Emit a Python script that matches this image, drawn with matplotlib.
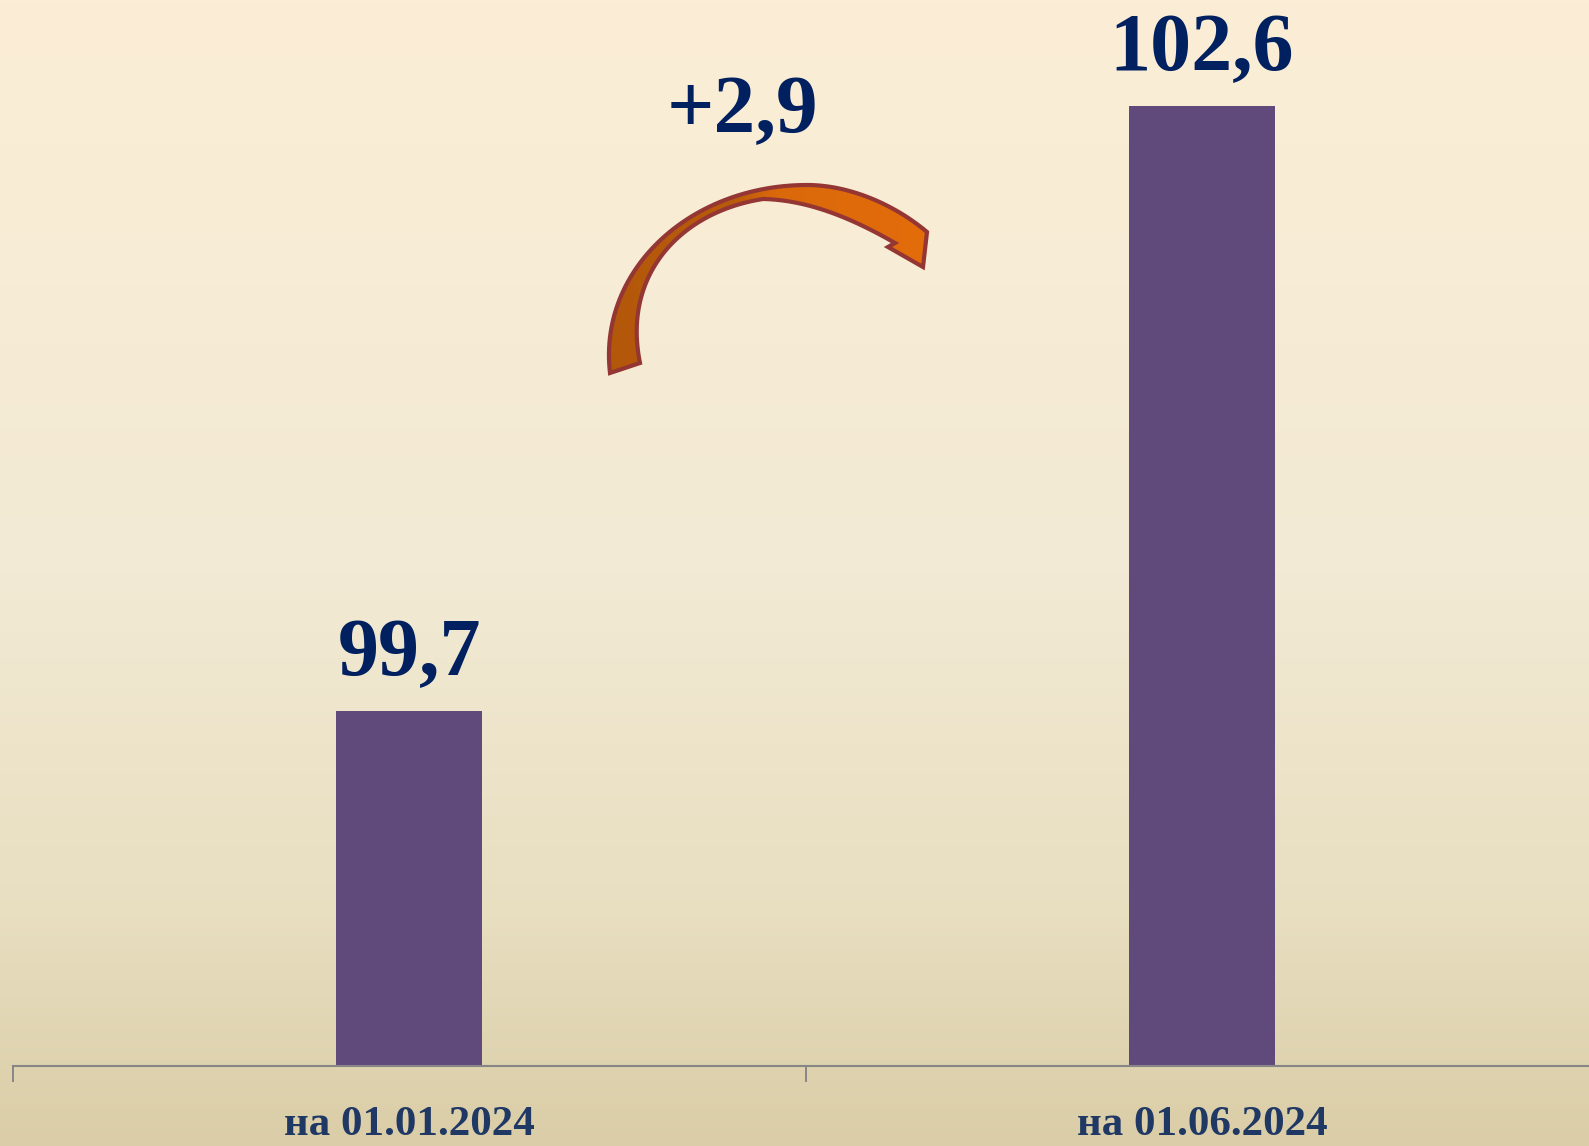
import numpy as np
import matplotlib
matplotlib.use("Agg")
import matplotlib.pyplot as plt
from matplotlib.colors import LinearSegmentedColormap
from matplotlib.patches import Polygon

# ---- data ----
categories = ["на 01.01.2024", "на 01.06.2024"]
values = [99.7, 102.6]
value_labels = ["99,7", "102,6"]
delta_label = "+2,9"
y_min, y_max = 98.0, 103.1

W, H = 1589, 1146
fig = plt.figure(figsize=(W / 100, H / 100), dpi=100)

# background gradient
bg = fig.add_axes([0, 0, 1, 1], zorder=0)
bg_cmap = LinearSegmentedColormap.from_list(
    "bg", [(0, "#FCEED6"), (0.5, "#F2EAD4"), (0.8, "#E8DEC0"), (1.0, "#DACDA7")])
bg.imshow(np.linspace(0, 1, 256).reshape(-1, 1), aspect="auto", cmap=bg_cmap,
          extent=(0, 1, 0, 1), origin="upper")
bg.set_axis_off()

# main axes
ax_left = 12.5 / W
ax_bottom = (H - 1066) / H
ax_height = (y_max - y_min) * 208.6 / H
ax = fig.add_axes([ax_left, ax_bottom, 1586 / W, ax_height], zorder=1)
ax.patch.set_alpha(0)
x = np.arange(len(categories))
ax.bar(x, [v - y_min for v in values], bottom=y_min, width=0.185,
       color="#604A7B", zorder=2)
ax.set_xlim(-0.5, 1.5)
ax.set_ylim(y_min, y_max)
for s in ["top", "right", "left"]:
    ax.spines[s].set_visible(False)
ax.spines["bottom"].set_color("#868686")
ax.spines["bottom"].set_linewidth(1.5)
ax.set_yticks([])
ax.set_xticks([-0.5, 0.5, 1.5])
ax.set_xticklabels([])
ax.tick_params(axis="x", length=11.5, width=1.4, color="#868686")

serif = ["Liberation Serif", "DejaVu Serif"]
for xi, v, lab, cat in zip(x, values, value_labels, categories):
    ax.annotate(lab, xy=(xi, v), xytext=(0, 26), textcoords="offset points",
                ha="center", va="baseline", fontsize=59, fontweight="bold",
                family=serif, color="#002060")
    ax.annotate(cat, xy=(xi, y_min), xytext=(0, -50), textcoords="offset points",
                ha="center", va="baseline", fontsize=31, fontweight="bold",
                family=serif, color="#1F3864", annotation_clip=False)

fig.text(742 / W, 1 - 132 / H, delta_label, ha="center", va="baseline",
         fontsize=60, fontweight="bold", family=serif, color="#002060")

# ---- curved arrow overlay (decoration, drawn in pixel coordinates) ----
ov = fig.add_axes([0, 0, 1, 1], zorder=3)
ov.set_axis_off()
ov.patch.set_alpha(0)


def bezier(p0, p1, p2, p3, n=60):
    t = np.linspace(0, 1, n)[:, None]
    p0, p1, p2, p3 = (np.asarray(p, float) for p in (p0, p1, p2, p3))
    return ((1 - t) ** 3 * p0 + 3 * (1 - t) ** 2 * t * p1
            + 3 * (1 - t) * t ** 2 * p2 + t ** 3 * p3)


outer_edge = np.vstack([
    bezier((610, 373), (598, 270), (690, 185), (807, 185)),
    bezier((807, 185), (850, 185), (895, 205), (927, 232))[1:],
])
head_pts = np.array([(923, 267), (888, 247)])
inner_edge = np.vstack([
    bezier((895, 243), (855, 220), (810, 200), (763, 199)),
    bezier((763, 199), (680, 212), (622, 275), (640, 363))[1:],
])
pts = np.vstack([outer_edge, head_pts, inner_edge])

arrow_cmap = LinearSegmentedColormap.from_list(
    "ar", [(0, "#B3570A"), (0.4, "#B85B0A"), (0.52, "#DA690B"), (1, "#E46C0A")])
grad = ov.imshow(np.linspace(0, 1, 256).reshape(1, -1), aspect="auto",
                 cmap=arrow_cmap, extent=(600, 935, 380, 180), zorder=3)
clip = Polygon(pts, closed=True, facecolor="none", edgecolor="none",
               transform=ov.transData)
ov.add_patch(clip)
grad.set_clip_path(clip)
ov.add_patch(Polygon(pts, closed=True, facecolor="none", edgecolor="#943634",
                     linewidth=3, joinstyle="miter", zorder=4))
ov.set_xlim(0, W)
ov.set_ylim(H, 0)

fig.savefig("out.png", dpi=100)
